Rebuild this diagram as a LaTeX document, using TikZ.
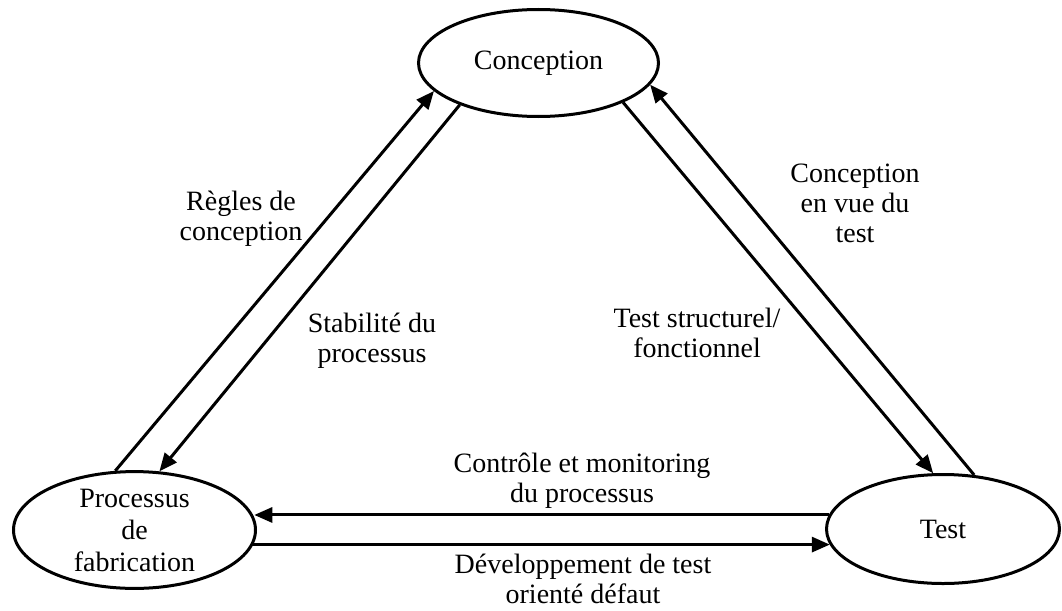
\documentclass[tikz,border=0pt]{standalone}
\usepackage{fontspec}
\setmainfont{Liberation Serif}
\usetikzlibrary{shapes.geometric,arrows.meta}
\begin{document}
\begin{tikzpicture}[x=1pt,y=-1pt,
  stage/.style={ellipse,draw,line width=3pt,inner sep=0pt,align=center,
    font=\fontsize{28}{32}\selectfont},
  lbl/.style={align=center,inner sep=0pt,font=\fontsize{28}{30}\selectfont},
  flow/.style={line width=3pt,-{Triangle[length=18pt,width=15pt]}}]
\useasboundingbox (0,0) rectangle (1062,610);
\node[stage,minimum width=240pt,minimum height=107pt] (conc) at (538.5,63) {Conception};
\node[stage,minimum width=242pt,minimum height=107pt] (proc) at (134.5,530) {Processus\\de\\fabrication};
\node[stage,minimum width=233pt,minimum height=109pt] (test) at (943,529) {Test};
\draw[flow] (proc.108.9) -- (conc.195.7);
\draw[flow] (conc.208.7) -- (proc.67.8);
\draw[flow] (conc.-25.2) -- (test.100.1);
\draw[flow] (test.60.3) -- (conc.-11.0);
\draw[flow] (test.173.7) -- (test.173.7 -| proc.6.7);
\draw[flow] (proc.-7.2) -- (proc.-7.2 -| test.188.1);
\node[lbl] (l1) at (241,219) {Règles de\\conception};
\node[lbl] (l2) at (372,341) {Stabilité du\\processus};
\node[lbl] (l3) at (855,203) {Conception\\en vue du\\test};
\node[lbl] (l4) at (697,333) {Test structurel/\\fonctionnel};
\node[lbl] (l5) at (582,481) {Contrôle et monitoring\\du processus};
\node[lbl] (l6) at (583,578.5) {Développement de test\\orienté défaut};
\end{tikzpicture}
\end{document}
